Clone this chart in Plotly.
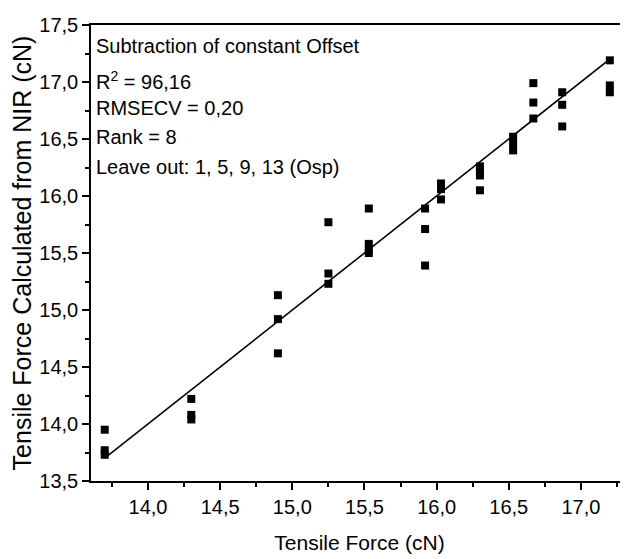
import plotly.graph_objects as go

# Reference tensile force (cN) for each measured sample group
x_groups = [13.7, 14.3, 14.9, 15.25, 15.53, 15.92, 16.03, 16.3, 16.53, 16.67, 16.87, 17.2]
# Calculated-from-NIR values for each group
y_groups = [
    [13.95, 13.77, 13.73],
    [14.22, 14.08, 14.04],
    [15.13, 14.92, 14.62],
    [15.77, 15.32, 15.23],
    [15.89, 15.58, 15.53, 15.50],
    [15.89, 15.71, 15.39],
    [16.11, 16.06, 15.97],
    [16.26, 16.22, 16.18, 16.05],
    [16.52, 16.46, 16.40],
    [16.99, 16.82, 16.68],
    [16.91, 16.80, 16.61],
    [17.19, 16.97, 16.91],
]
fit_x = [13.7, 17.2]
fit_y = [13.7, 17.2]

x_ticks = [14.0, 14.5, 15.0, 15.5, 16.0, 16.5, 17.0]
y_ticks = [13.5, 14.0, 14.5, 15.0, 15.5, 16.0, 16.5, 17.0, 17.5]

info_lines = [
    "Subtraction of constant Offset",
    "R<sup>2</sup> = 96,16",
    "RMSECV = 0,20",
    "Rank = 8",
    "Leave out: 1, 5, 9, 13 (Osp)",
]
info_y = [0.955, 0.878, 0.817, 0.754, 0.688]

px, py = [], []
for xv, ys in zip(x_groups, y_groups):
    for yv in ys:
        px.append(xv)
        py.append(yv)

FONT = "Liberation Sans, Arial, sans-serif"

fig = go.Figure()
fig.add_trace(go.Scatter(x=fit_x, y=fit_y, mode="lines",
                         line=dict(color="black", width=1.6), showlegend=False))
fig.add_trace(go.Scatter(x=px, y=py, mode="markers",
                         marker=dict(symbol="square", size=8, color="black"),
                         showlegend=False))

for t, yy in zip(info_lines, info_y):
    fig.add_annotation(text=t, xref="paper", yref="paper", x=0.006, y=yy,
                       xanchor="left", yanchor="middle", showarrow=False,
                       font=dict(family=FONT, size=20, color="black"))

fig.update_layout(
    width=628, height=559,
    margin=dict(l=83, r=8, t=17, b=86),
    plot_bgcolor="white", paper_bgcolor="white",
    separators=",.",
    font=dict(family=FONT, color="black"),
)
fig.update_xaxes(
    range=[13.605, 17.326], showgrid=False, zeroline=False,
    showline=True, linecolor="black", linewidth=1.5, mirror=True,
    ticks="outside", ticklen=7, tickwidth=1.5, tickcolor="black",
    tickvals=x_ticks, ticktext=[f"{v:.1f}".replace(".", ",") for v in x_ticks],
    tickfont=dict(family=FONT, size=20),
    minor=dict(dtick=0.25, tick0=0, ticks="outside", ticklen=4, tickwidth=1.5, tickcolor="black"),
    title=dict(text="Tensile Force (cN)", font=dict(family=FONT, size=21), standoff=19),
    automargin=False,
)
fig.update_yaxes(
    range=[13.5, 17.5], showgrid=False, zeroline=False,
    showline=True, linecolor="black", linewidth=1.5,
    ticks="outside", ticklen=7, tickwidth=1.5, tickcolor="black",
    tickvals=y_ticks, ticktext=[f"{v:.1f}".replace(".", ",") for v in y_ticks],
    tickfont=dict(family=FONT, size=20),
    minor=dict(dtick=0.25, tick0=0, ticks="outside", ticklen=4, tickwidth=1.5, tickcolor="black"),
    title=dict(text="Tensile Force Calculated from NIR (cN)", font=dict(family=FONT, size=25), standoff=4),
    automargin=False,
)

fig.write_html("out.html")
